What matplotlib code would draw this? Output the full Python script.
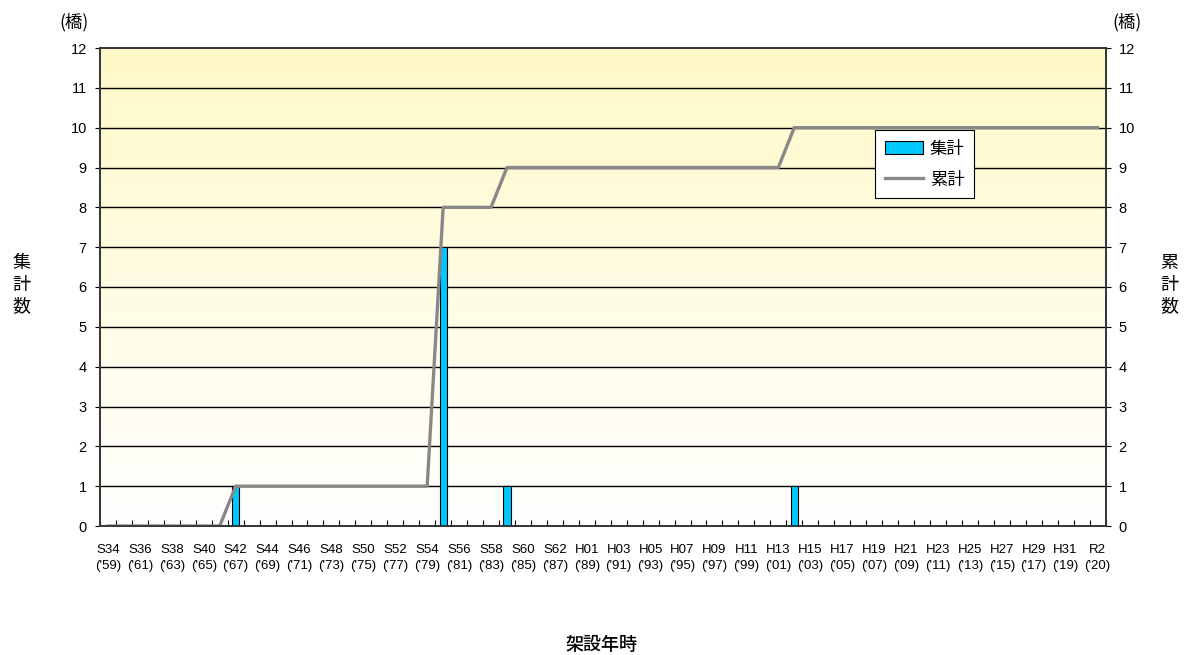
import numpy as np
import matplotlib
matplotlib.use("Agg")
import matplotlib.pyplot as plt
from matplotlib.patches import Patch
from matplotlib.lines import Line2D

plt.rcParams['font.family'] = ['Liberation Sans', 'Noto Sans CJK JP', 'DejaVu Sans']
CJK = ['Noto Sans CJK JP', 'DejaVu Sans']

# Categories: S34('59) ... H31('19), R1('19), R2('20)
years = list(range(1959, 2020))
categories = []
for y in years:
    if y <= 1988:
        categories.append(f"S{y-1925:02d}\n('{y%100:02d})")
    else:
        categories.append(f"H{y-1988:02d}\n('{y%100:02d})")
categories.append("R1\n('19)")
categories.append("R2\n('20)")

bar_counts = {"S42": 1, "S55": 7, "S59": 1, "H14": 1}
counts = [0] * len(categories)
for i, c in enumerate(categories):
    key = c.split("\n")[0]
    if key in bar_counts:
        counts[i] = bar_counts[key]
counts = np.array(counts)
cumulative = np.cumsum(counts)

tick_labels = [c for i, c in enumerate(categories) if i % 2 == 0]

fig = plt.figure(figsize=(11.89, 6.55), dpi=100)
ax = fig.add_axes([100/1189, 1 - 526/655, (1105.5 - 100)/1189, (526 - 48)/655])

x = np.arange(len(categories))
ax.set_xlim(-0.5, len(categories) - 0.5)
ax.set_ylim(0, 12)

# gradient background
grad = np.linspace(0, 1, 256).reshape(-1, 1)
top = np.array([255, 249, 200]) / 255
bot = np.array([255, 255, 255]) / 255
img = bot + (top - bot) * grad
img = np.repeat(img[:, None, :], 2, axis=1).reshape(256, 2, 3)
ax.imshow(img, extent=[-0.5, len(categories) - 0.5, 0, 12], origin='lower',
          aspect='auto', zorder=0)

for yv in range(1, 12):
    ax.axhline(yv, color='black', lw=1.0, zorder=1)

ax.bar(x, counts, width=0.45, color='#00C8FF', edgecolor='black', lw=0.8, zorder=2)
ax.plot(x, cumulative, color='#888888', lw=2.4, zorder=3)

# x ticks: boundaries inward, labels at even categories
ax.set_xticks(np.arange(len(categories) + 1) - 0.5)
ax.set_xticklabels([])
ax.tick_params(axis='x', which='major', direction='in', length=4, width=0.8)
ax.set_xticks(x[::2], minor=True)
ax.set_xticklabels(tick_labels, minor=True, fontsize=9.5, linespacing=1.45)
ax.tick_params(axis='x', which='minor', length=0, pad=13)

ax.set_yticks(range(0, 13))
ax.tick_params(axis='y', direction='out', length=3.5, width=0.8, labelsize=10.5, pad=6)

for s in ax.spines.values():
    s.set_color('#333333')
    s.set_linewidth(1.2)

ax2 = ax.twinx()
ax2.set_ylim(0, 12)
ax2.set_yticks(range(0, 13))
ax2.tick_params(axis='y', direction='out', length=3.5, width=0.8, labelsize=10.5, pad=6)
for s in ax2.spines.values():
    s.set_color('#333333')
    s.set_linewidth(1.2)

fig.text(74/1189, 1 - 22/655, "(橋)", fontsize=12.5, ha='center', va='center', family=CJK)
fig.text(1127/1189, 1 - 22/655, "(橋)", fontsize=12.5, ha='center', va='center', family=CJK)
fig.text(21/1189, 1 - 285/655, "集\n計\n数", fontsize=13, fontweight='normal',
         ha='center', va='center', linespacing=1.25, family=CJK)
fig.text(1169/1189, 1 - 285/655, "累\n計\n数", fontsize=13, fontweight='normal',
         ha='center', va='center', linespacing=1.25, family=CJK)
fig.text(601/1189, 1 - 645/655, "架設年時", fontsize=13, fontweight='medium',
         ha='center', va='center', family=CJK)

handles = [Patch(facecolor='#00C8FF', edgecolor='black', lw=0.8),
           Line2D([0], [0], color='#888888', lw=2.4)]
leg = ax.legend(handles, ['集計', '累計'], loc='upper left',
                bbox_to_anchor=((875 - 100)/1005.5, 1 - (130 - 48)/478),
                borderaxespad=0,
                frameon=True, fancybox=False, edgecolor='black', framealpha=1,
                handlelength=2.2, handleheight=0.7,
                borderpad=0.55, labelspacing=0.75, handletextpad=0.4,
                prop={'family': CJK, 'size': 12.5})
leg.get_frame().set_linewidth(0.8)
leg.set_zorder(10)

fig.savefig("out.png", dpi=100)
